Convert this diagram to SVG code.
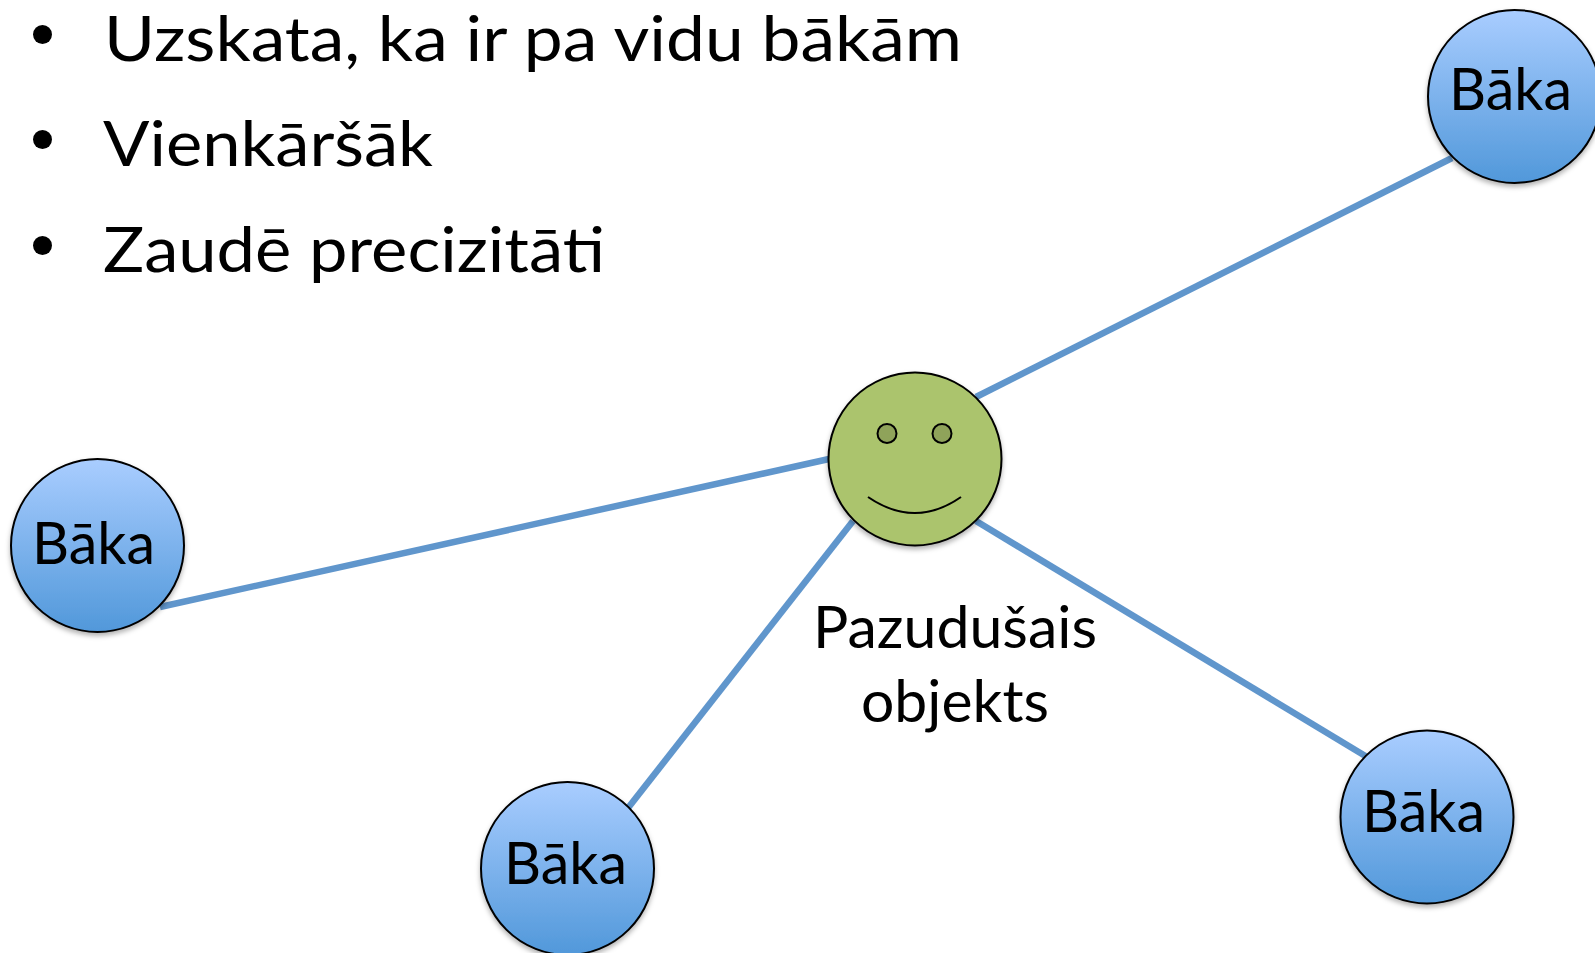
<svg xmlns="http://www.w3.org/2000/svg" width="1595" height="953" viewBox="0 0 1595 953">
<style>
text{font-family:"Lato","Open Sans","Liberation Sans",sans-serif;fill:#000}
.h{font-size:62px}
.n{font-size:59px}
.l{font-size:59px;text-anchor:middle}
.c{stroke:#6096cc;stroke-width:6.5;fill:none}
.b{fill:url(#blue);stroke:#000;stroke-width:2;filter:url(#sh)}
.f{fill:#abc46d;stroke:#000;stroke-width:2;filter:url(#sh)}
.e{fill:#8fa35a;stroke:#000;stroke-width:2}
</style>
<defs>
<linearGradient id="blue" x1="0" y1="0" x2="0" y2="1"><stop offset="0" stop-color="#a9cdff"/><stop offset="1" stop-color="#5198da"/></linearGradient>
<filter id="sh" x="-10%" y="-10%" width="120%" height="125%"><feDropShadow dx="0" dy="3" stdDeviation="2.5" flood-color="#000" flood-opacity="0.3"/></filter>
</defs>
<rect width="1595" height="953" fill="#fff"/>
<g id="connectors">
<line class="c" x1="976" y1="397" x2="1452" y2="158"/>
<line class="c" x1="829" y1="459" x2="160" y2="607"/>
<line class="c" x1="853" y1="521" x2="628" y2="808"/>
<line class="c" x1="976" y1="521" x2="1367" y2="757"/>
</g>
<g id="bullets">
<circle cx="42.500" cy="34.500" r="9.500"/><circle cx="42.500" cy="139.500" r="9.500"/><circle cx="42.500" cy="245.500" r="9.500"/>
<text class="h" x="104" y="61" textLength="858" lengthAdjust="spacingAndGlyphs">Uzskata, ka ir pa vidu bākām</text>
<text class="h" x="103" y="166" textLength="330" lengthAdjust="spacingAndGlyphs">Vienkāršāk</text>
<text class="h" x="103" y="272" textLength="502" lengthAdjust="spacingAndGlyphs">Zaudē precizitāti</text>
</g>
<g id="node-target">
<circle class="f" cx="915" cy="459" r="86.5"/>
<circle class="e" cx="887" cy="433.500" r="9.500"/>
<circle class="e" cx="942" cy="433.500" r="9.500"/>
<path d="M868 497Q915 529 961 497" fill="none" stroke="#000" stroke-width="2"/>
<text class="l" x="955" y="648" textLength="284" lengthAdjust="spacingAndGlyphs">Pazudušais</text>
<text class="l" x="955" y="722" textLength="188" lengthAdjust="spacingAndGlyphs">objekts</text>
</g>
<g id="node-top-right"><circle class="b" cx="1514.500" cy="96.500" r="86.500"/><text class="n" x="1449" y="110" textLength="123" lengthAdjust="spacingAndGlyphs">Bāka</text></g>
<g id="node-left"><circle class="b" cx="97.500" cy="545.500" r="86.500"/><text class="n" x="32" y="564" textLength="123" lengthAdjust="spacingAndGlyphs">Bāka</text></g>
<g id="node-bottom"><circle class="b" cx="567.500" cy="868.500" r="86.500"/><text class="n" x="504" y="884" textLength="123" lengthAdjust="spacingAndGlyphs">Bāka</text></g>
<g id="node-right"><circle class="b" cx="1427" cy="817" r="86.500"/><text class="n" x="1362" y="832" textLength="123" lengthAdjust="spacingAndGlyphs">Bāka</text></g>
</svg>
